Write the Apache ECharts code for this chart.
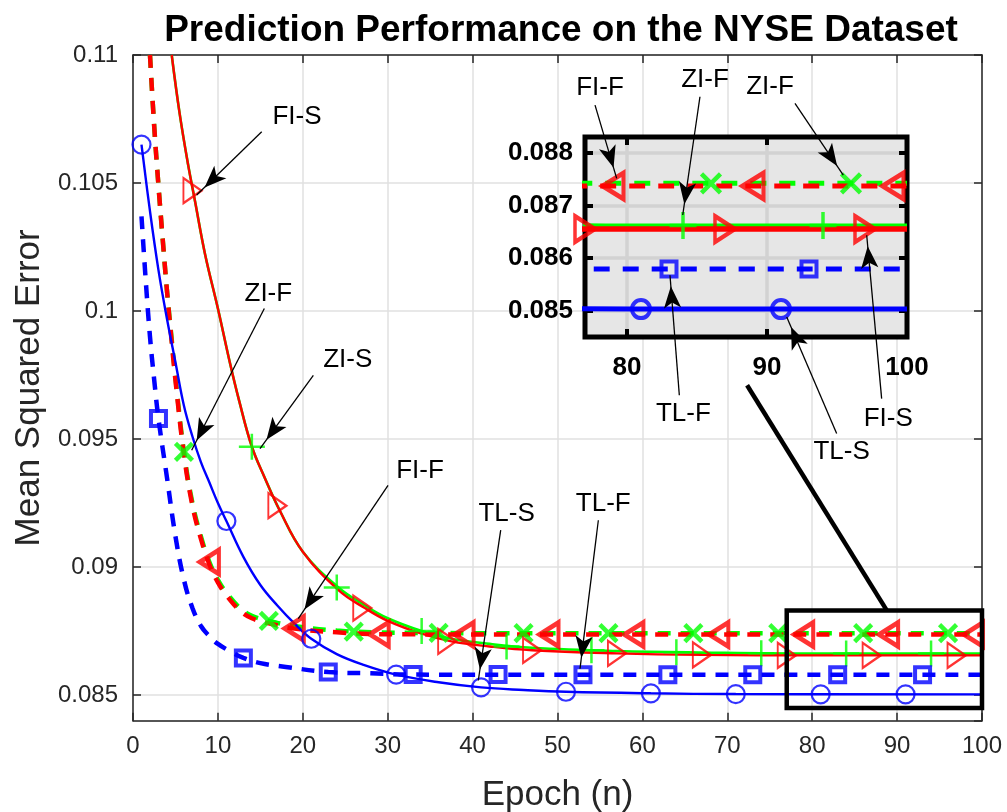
<!DOCTYPE html>
<html><head><meta charset="utf-8">
<script src="https://cdn.jsdelivr.net/npm/echarts@6/dist/echarts.min.js"></script>
<style>html,body{margin:0;padding:0;background:#fff}#c{width:1007px;height:812px}</style>
</head><body><div id="c"></div>
<script>
// ---- Curve values [epoch, MSE] ----
const tlS_line = [[1,0.1065],[2,0.1039],[3,0.1016],[4,0.0997],[5,0.0980],[6,0.0963],[7,0.0951],[8,0.0941],[9,0.0933],[10,0.0925],[11,0.0918],[13,0.0904],[15,0.0893],[17,0.0885],[19,0.0878],[21,0.0872],[24,0.0866],[27,0.0862],[31,0.0858],[36,0.08550],[41,0.08530],[46,0.08520],[51,0.08513],[61,0.08507],[71,0.08504],[100,0.08503]];
const tlF_line = [[1,0.1037],[1.5,0.1012],[2,0.0990],[2.5,0.0973],[3,0.0958],[4,0.0935],[5,0.0912],[6,0.0895],[7,0.0884],[8,0.0877],[9,0.0873],[10,0.0870],[11.5,0.0867],[13,0.08645],[15,0.08625],[18,0.0861],[23,0.0859],[28,0.08585],[33,0.0858],[100,0.08579]];
const fiS_line = [[4.56,0.1100],[5.5,0.1077],[6.5,0.1057],[7.3,0.1043],[8.5,0.1022],[10,0.1001],[11.4,0.0980],[12.5,0.0965],[14,0.0947],[15.5,0.0935],[17.3,0.0922],[20,0.0906],[24.2,0.0891],[27.3,0.0884],[30,0.0879],[34,0.0874],[37.5,0.0871],[42,0.0869],[47,0.08675],[57,0.08663],[67,0.08657],[80,0.08655],[100,0.08655]];
const fiF_line = [[2,0.1100],[2.5,0.1072],[3,0.1049],[3.5,0.1028],[4,0.1008],[4.5,0.0990],[5,0.0973],[6,0.0944],[7,0.0924],[8,0.0911],[9,0.0901],[10,0.0894],[11,0.0889],[12.6,0.0883],[14,0.0880],[16,0.0878],[19,0.0876],[24,0.08745],[29,0.08738],[40,0.08737],[100,0.08737]];
const ziS_line = [[4.56,0.1100],[5.5,0.1077],[6.5,0.1057],[7.3,0.1043],[8.5,0.1022],[10,0.1001],[11.4,0.0980],[12.5,0.0965],[14,0.0947],[15.5,0.0935],[17.3,0.0922],[20,0.0906],[24.2,0.0892],[27.3,0.0885],[30,0.0880],[34,0.0875],[37.5,0.0872],[42,0.0870],[47,0.08685],[57,0.08672],[67,0.08666],[80,0.08662],[100,0.08662]];
const ziF_line = [[2,0.1100],[2.5,0.1072],[3,0.1049],[3.5,0.1028],[4,0.1008],[4.5,0.0991],[5,0.0974],[6,0.0945],[7,0.0925],[8,0.0912],[9,0.0902],[10,0.0895],[11,0.0890],[12.6,0.0884],[14,0.0881],[16,0.0879],[19,0.08770],[24,0.08752],[29,0.08745],[40,0.08742],[100,0.08742]];

// ---- Marker positions ----
const tlS_mEpochs = [1,11,21,31,41,51,61,71,81,91];
const tlS_mValues = [0.1065,0.0918,0.0872,0.0858,0.0853,0.08513,0.08507,0.08504,0.08503,0.08503];
const tlF_mEpochs = [3,13,23,33,43,53,63,73,83,93];
const tlF_mValues = [0.0958,0.08645,0.0859,0.0858,0.0858,0.08579,0.08579,0.08579,0.08579,0.08579];
const fiS_mEpochs = [7,17,27,37,47,57,67,77,87,97];
const fiS_mValues = [0.1047,0.0924,0.0884,0.0871,0.08675,0.08663,0.08657,0.08655,0.08655,0.08655];
const fiF_mEpochs = [9,19,29,39,49,59,69,79,89,99];
const fiF_mValues = [0.0902,0.0876,0.08738,0.08737,0.08737,0.08737,0.08737,0.08737,0.08737,0.08737];
const ziS_mEpochs = [14,24,34,44,54,64,74,84,94];
const ziS_mValues = [0.0947,0.0892,0.0875,0.0869,0.08675,0.08667,0.08663,0.08662,0.08662];
const ziF_mEpochs = [6,16,26,36,46,56,66,76,86,96];
const ziF_mValues = [0.0945,0.0879,0.08748,0.08743,0.08742,0.08742,0.08742,0.08742,0.08742,0.08742];

// ---- Axis ranges / ticks ----
const xTicksMain = [0,100,10];
const yRangeMain = [0.084,0.11,0.005];
const xRangeInset = [77,100,10];
const yRangeInset = [0.0845,0.0883,0.001];
const titleText = 'Prediction Performance on the NYSE Dataset';
const xName = 'Epoch (n)';
const yName = 'Mean Squared Error';

// ---- Annotations: label, text centre, arrow tail, arrow tip (main data coords) ----
const annoLabels = ['FI-S','ZI-F','ZI-S','FI-F','TL-S','TL-F','FI-F','ZI-F','ZI-F','TL-F','TL-S','FI-S'];
const annoText = [[19.32,0.10758],[15.94,0.10069],[25.29,0.09808],[33.80,0.09374],[44.01,0.09209],[55.39,0.09248],[55.01,0.10870],[67.37,0.10902],[75.03,0.10876],[64.82,0.09600],[83.47,0.09450],[88.96,0.09580]];
const annoTail = [[15.16,0.10700],[15.47,0.10010],[21.24,0.09749],[30.04,0.09319],[43.31,0.09144],[54.81,0.09183],[54.42,0.10804],[66.78,0.10837],[77.97,0.10811],[64.35,0.09671],[82.88,0.09522],[88.18,0.09658]];
const annoTip = [[7.50,0.10453],[6.91,0.09456],[14.96,0.09463],[19.47,0.08799],[40.67,0.08557],[52.65,0.08603],[56.97,0.10518],[64.75,0.10375],[83.66,0.10531],[63.25,0.10140],[77.0,0.09977],[86.42,0.10296]];
const zoomBox = [[77,0.0845],[100,0.0883]];
const zoomLink = [[88.8,0.0883],[72.33,0.0971]];

const FONT = 'Liberation Sans, Arial, Helvetica, sans-serif';
const BLUE='#0000ff', RED='#ff0000', GREEN='#00ff00';
const P_RIGHT='path://M0,0L10,5L0,10Z';
const P_LEFT='path://M10,0L0,5L10,10Z';
const P_X='path://M0,0L10,10M10,0L0,10';
const P_PLUS='path://M5,0L5,10M0,5L10,5';

function pairs(xs, ys){ return xs.map((x,i)=>[x, ys[i]]); }

function lineS(data, color, width, dash, xi, yi, z){
  return {type:'line', data, xAxisIndex:xi, yAxisIndex:yi, symbol:'none', showSymbol:false,
    smooth:0.4, silent:true, z,
    lineStyle:{color, width, type: dash ? dash : 'solid', cap:'butt'}};
}
function markS(xs, ys, symbol, size, color, bw, xi, yi, z){
  return {type:'scatter', data:pairs(xs,ys), xAxisIndex:xi, yAxisIndex:yi, symbol, symbolSize:size,
    silent:true, z, itemStyle:{color:'rgba(0,0,0,0)', borderColor:color, borderWidth:bw}};
}

const series = [];
// main plot
const dm=[13,10];
series.push(lineS(ziS_line, GREEN, 2.6, null, 0, 0, 2));
series.push(markS(ziS_mEpochs, ziS_mValues, P_PLUS, 26, GREEN, 2.5, 0, 0, 2));
series.push(lineS(ziF_line, GREEN, 4.5, dm, 0, 0, 2));
series.push(markS(ziF_mEpochs, ziF_mValues, P_X, 17, GREEN, 4.5, 0, 0, 2));
series.push(lineS(fiS_line, RED, 2.4, null, 0, 0, 2));
series.push(markS(fiS_mEpochs, fiS_mValues, P_RIGHT, [18,25], RED, 2.2, 0, 0, 2));
series.push(lineS(fiF_line, RED, 4.5, dm, 0, 0, 2));
series.push(markS(fiF_mEpochs, fiF_mValues, P_LEFT, [19,24], RED, 4.5, 0, 0, 2));
series.push(lineS(tlS_line, BLUE, 2.4, null, 0, 0, 2));
series.push(markS(tlS_mEpochs, tlS_mValues, 'circle', 18, BLUE, 2.2, 0, 0, 2));
series.push(lineS(tlF_line, BLUE, 4.5, dm, 0, 0, 2));
series.push(markS(tlF_mEpochs, tlF_mValues, 'rect', 15, BLUE, 4, 0, 0, 2));
// inset
const di=[16,13];
series.push(lineS(ziS_line, GREEN, 4, null, 2, 2, 6));
series.push(markS(ziS_mEpochs, ziS_mValues, P_PLUS, 27, GREEN, 3.5, 2, 2, 6));
series.push(lineS(ziF_line, GREEN, 5, di, 2, 2, 6));
series.push(markS(ziF_mEpochs, ziF_mValues, P_X, 19, GREEN, 4.5, 2, 2, 6));
series.push(lineS(fiS_line, RED, 5.5, null, 2, 2, 6));
series.push(markS(fiS_mEpochs, fiS_mValues, P_RIGHT, [20,26], RED, 4, 2, 2, 6));
series.push(lineS(fiF_line, RED, 5, di, 2, 2, 6));
series.push(markS(fiF_mEpochs, fiF_mValues, P_LEFT, [21,26], RED, 4.5, 2, 2, 6));
series.push(lineS(tlS_line, BLUE, 5, null, 2, 2, 6));
series.push(markS(tlS_mEpochs, tlS_mValues, 'circle', 18, BLUE, 4, 2, 2, 6));
series.push(lineS(tlF_line, BLUE, 5, di, 2, 2, 6));
series.push(markS(tlF_mEpochs, tlF_mValues, 'rect', 15, BLUE, 4, 2, 2, 6));

// inset frame (thick black border)
series.push({
  type:'scatter', data:[], xAxisIndex:2, yAxisIndex:2, clip:false, silent:true, z:5,
  markArea:{silent:true, z:5, animation:false,
    itemStyle:{color:'rgba(0,0,0,0)', borderColor:'#000', borderWidth:5},
    label:{show:false}, data:[[{coord:[xRangeInset[0], yRangeInset[0]]},{coord:[xRangeInset[1], yRangeInset[1]]}]]}
});

// annotations
const mlData = annoLabels.map((_,i)=>[
  {coord:annoTail[i], symbol:'none'},
  {coord:annoTip[i], symbol:'arrow', symbolSize:[13,22], symbolOffset:[0,11]}
]);
mlData.push([
  {coord:zoomLink[0], symbol:'none', lineStyle:{width:4.5, color:'#000'}},
  {coord:zoomLink[1], symbol:'none'}
]);
series.push({
  type:'scatter', data:[], xAxisIndex:0, yAxisIndex:0, clip:false, silent:true, z:10,
  markLine:{silent:true, z:10, animation:false, precision:6,
    lineStyle:{color:'#000', width:1.3, type:'solid'}, label:{show:false},
    emphasis:{disabled:true}, data:mlData},
  markArea:{silent:true, z:10, animation:false,
    itemStyle:{color:'rgba(0,0,0,0)', borderColor:'#000', borderWidth:4.5},
    label:{show:false}, data:[[{coord:zoomBox[0]},{coord:zoomBox[1]}]]},
  markPoint:{silent:true, z:11, animation:false, symbol:'circle', symbolSize:1,
    itemStyle:{color:'rgba(0,0,0,0)'},
    label:{show:true, position:'inside', fontSize:26, color:'#000', fontFamily:FONT},
    data:annoLabels.map((t,i)=>({coord:annoText[i], value:t, label:{formatter:t}}))}
});

const axCol='#262626';
const mainTickLabel={fontSize:24, color:axCol, fontFamily:FONT};
const option = {
  animation:false,
  backgroundColor:'#fff',
  title:{text:titleText, left:556, top:7, textAlign:'center',
    textStyle:{fontSize:37, fontWeight:'bold', color:'#000', fontFamily:FONT}},
  grid:[
    {left:133, right:25, top:55, bottom:91.3, containLabel:false, outerBoundsMode:'none'},
    {left:585, top:137, width:322, height:200, show:true, backgroundColor:'#e6e6e6',
      borderWidth:0, z:3, containLabel:false, outerBoundsMode:'none'}
  ],
  xAxis:[
    {gridIndex:0, type:'value', position:'bottom', min:xTicksMain[0], max:xTicksMain[1], interval:xTicksMain[2],
      axisLine:{show:true, onZero:false, lineStyle:{color:axCol, width:1.5}},
      axisTick:{show:true, inside:true, length:8, lineStyle:{color:axCol, width:1.5}},
      axisLabel:Object.assign({margin:14}, mainTickLabel),
      splitLine:{show:true, lineStyle:{color:'#e0e0e0', width:1.5}},
      name:xName, nameLocation:'middle', nameGap:57,
      nameTextStyle:{fontSize:35, color:axCol, fontFamily:FONT}},
    {gridIndex:0, type:'value', position:'top', min:xTicksMain[0], max:xTicksMain[1], interval:xTicksMain[2],
      axisLine:{show:true, onZero:false, lineStyle:{color:axCol, width:1.5}},
      axisTick:{show:true, inside:true, length:8, lineStyle:{color:axCol, width:1.5}},
      axisLabel:{show:false}, splitLine:{show:false}},
    {gridIndex:1, type:'value', position:'bottom', min:xRangeInset[0], max:xRangeInset[1],
      minInterval:xRangeInset[2], maxInterval:xRangeInset[2], splitNumber:2, z:4,
      axisLine:{show:false, onZero:false},
      axisTick:{show:true, inside:true, length:8, lineStyle:{color:'#000', width:4}},
      axisLabel:{fontSize:26, fontWeight:'bold', color:'#000', fontFamily:FONT, margin:18, showMinLabel:false},
      splitLine:{show:true, lineStyle:{color:'#d2d2d2', width:3.5}}},
    {gridIndex:1, type:'value', position:'top', min:xRangeInset[0], max:xRangeInset[1],
      minInterval:xRangeInset[2], maxInterval:xRangeInset[2], splitNumber:2, z:4,
      axisLine:{show:false, onZero:false},
      axisTick:{show:true, inside:true, length:8, lineStyle:{color:'#000', width:4}},
      axisLabel:{show:false}, splitLine:{show:false}}
  ],
  yAxis:[
    {gridIndex:0, type:'value', position:'left', min:yRangeMain[0], max:yRangeMain[1],
      minInterval:yRangeMain[2], maxInterval:yRangeMain[2], splitNumber:5,
      axisLine:{show:true, onZero:false, lineStyle:{color:axCol, width:1.5}},
      axisTick:{show:true, inside:true, length:8, lineStyle:{color:axCol, width:1.5}},
      axisLabel:Object.assign({margin:15, showMinLabel:false}, mainTickLabel),
      splitLine:{show:true, lineStyle:{color:'#e0e0e0', width:1.5}},
      name:yName, nameLocation:'middle', nameGap:86,
      nameTextStyle:{fontSize:35, color:axCol, fontFamily:FONT}},
    {gridIndex:0, type:'value', position:'right', min:yRangeMain[0], max:yRangeMain[1],
      minInterval:yRangeMain[2], maxInterval:yRangeMain[2], splitNumber:5,
      axisLine:{show:true, onZero:false, lineStyle:{color:axCol, width:1.5}},
      axisTick:{show:true, inside:true, length:8, lineStyle:{color:axCol, width:1.5}},
      axisLabel:{show:false}, splitLine:{show:false}},
    {gridIndex:1, type:'value', position:'left', min:yRangeInset[0], max:yRangeInset[1],
      minInterval:yRangeInset[2], maxInterval:yRangeInset[2], splitNumber:4, z:4,
      axisLine:{show:false, onZero:false},
      axisTick:{show:true, inside:true, length:8, lineStyle:{color:'#000', width:4}},
      axisLabel:{fontSize:26, fontWeight:'bold', color:'#000', fontFamily:FONT, margin:12, showMinLabel:false, showMaxLabel:false},
      splitLine:{show:true, lineStyle:{color:'#d2d2d2', width:3.5}}},
    {gridIndex:1, type:'value', position:'right', min:yRangeInset[0], max:yRangeInset[1],
      minInterval:yRangeInset[2], maxInterval:yRangeInset[2], splitNumber:4, z:4,
      axisLine:{show:false, onZero:false},
      axisTick:{show:true, inside:true, length:8, lineStyle:{color:'#000', width:4}},
      axisLabel:{show:false}, splitLine:{show:false}}
  ],
  series
};
const chart = echarts.init(document.getElementById('c'), null, {renderer:'canvas'});
chart.setOption(option);
</script>
</body></html>
